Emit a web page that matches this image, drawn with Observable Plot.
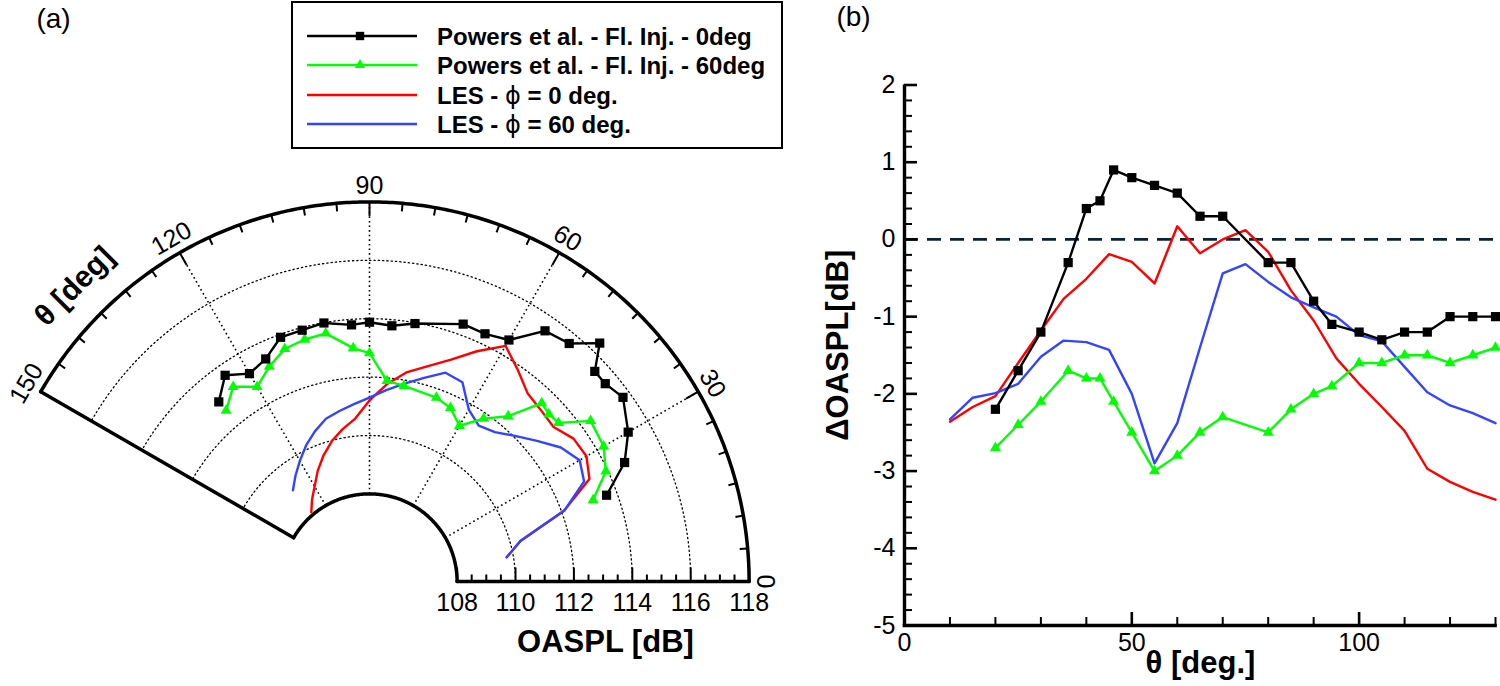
<!DOCTYPE html>
<html><head><meta charset="utf-8">
<script src="https://cdn.jsdelivr.net/npm/d3@7"></script>
<script src="https://cdn.jsdelivr.net/npm/@observablehq/plot@0.6"></script>
<style>
html,body{margin:0;padding:0;background:#fff;}
#wrap{position:relative;width:1500px;height:686px;overflow:hidden;font-family:"Liberation Sans",Arial,Helvetica,sans-serif;}
#left,#right,#legend{position:absolute;top:0;}
#left{left:0px}
#right{left:790px}
#legend{left:291px;top:1px}
svg{overflow:visible}
</style></head><body><div id="wrap"><div id="left"></div><div id="right"></div><div id="legend"></div></div>
<script>
// ---------------- data ----------------
// experimental angles (Powers et al.)
const thetaExp = [20,25,30,36,40,43,46,50,55,60,65,70,80,85,90,94,100,105,110,115,120,125,130];
// LES angles
const thetaLes = [10,15,20,25,30,35,40,45,50,55,60,65,70,75,80,85,90,95,100,105,110,115,120,125,130];

// (a) OASPL [dB] polar
const oaExp0  = [113.64,114.64,115.23,115.73,115.54,115.55,116.35,115.64,115.48,114.55,114.36,114.38,113.97,113.79,113.88,113.81,113.99,113.91,113.90,113.41,113.22,113.62,113.03];
const oaExp60 = [113.15,113.93,114.26,114.36,113.45,113.40,113.49,112.39,111.81,111.16,111.56,111.70,111.80,111.90,112.82,113.01,113.63,113.58,113.48,113.12,112.70,113.14,112.64];
const oaLes0  = [109.77,110.35,112.09,113.31,113.58,113.53,113.23,113.30,113.42,113.85,114.32,113.70,113.08,112.63,112.27,111.78,111.20,110.60,110.30,109.98,109.60,109.19,108.76,108.43,108.10];
const oaLes60 = [109.77,110.35,112.10,113.11,113.31,113.00,112.49,112.05,111.68,111.52,111.80,112.53,112.61,112.22,111.88,111.58,111.30,111.10,110.93,110.77,110.47,110.14,109.77,109.42,109.08];

// (b) Delta OASPL [dB]
const dExp0  = [-2.2,-1.7,-1.2,-0.3,0.4,0.5,0.9,0.8,0.7,0.6,0.3,0.3,-0.3,-0.3,-0.8,-1.1,-1.2,-1.3,-1.2,-1.2,-1.0,-1.0,-1.0];
const dExp60 = [-2.7,-2.4,-2.1,-1.7,-1.8,-1.8,-2.1,-2.5,-3.0,-2.8,-2.5,-2.3,-2.5,-2.2,-2.0,-1.9,-1.6,-1.6,-1.5,-1.5,-1.6,-1.5,-1.4];
const dLes0  = [-2.36,-2.17,-2.03,-1.60,-1.18,-0.77,-0.51,-0.19,-0.29,-0.57,0.17,-0.18,0.00,0.12,-0.16,-0.66,-1.05,-1.54,-1.87,-2.17,-2.48,-2.97,-3.14,-3.27,-3.37];
const dLes60 = [-2.33,-2.05,-1.99,-1.87,-1.52,-1.31,-1.33,-1.43,-2.00,-2.90,-2.38,-1.40,-0.44,-0.32,-0.55,-0.75,-0.88,-1.00,-1.24,-1.32,-1.65,-1.98,-2.15,-2.25,-2.38];

// ticks / labels
const angleLabels = [0,30,60,90,120,150];
const radialLabels = [108,110,112,114,116,118];
const xTickLabels = [0,50,100];
const yTickLabels = [-5,-4,-3,-2,-1,0,1,2];
const seriesNames = [
  ["Powers et al. - Fl. Inj. - 0deg"],
  ["Powers et al. - Fl. Inj. - 60deg"],
  ["LES - ", "\u03d5", " = 0 deg."],
  ["LES - ", "\u03d5", " = 60 deg."]
];

// ---------------- styles ----------------
const C = {black:"#000000", green:"#00ff00", red:"#ff0000", blue:"#3344ff", dash:"#0b2230"};
const FONT = '"Liberation Sans",Arial,Helvetica,sans-serif';
const LW = 2.4;

// ---------------- (a) polar ----------------
const R0 = 105, RMIN = 108, RMAX = 118, AMAX = 150;
const k = 29.2, cx = 369, cy = 581, W1 = 790, H = 686;
const rad = Math.PI / 180;
const X = (v, a) => (v - R0) * Math.cos(a * rad);
const Y = (v, a) => (v - R0) * Math.sin(a * rad);
const toPts = (th, vals) => th.map((a, i) => ({a, v: vals[i]}));
const pE0 = toPts(thetaExp, oaExp0), pE60 = toPts(thetaExp, oaExp60);
const pL0 = toPts(thetaLes, oaLes0), pL60 = toPts(thetaLes, oaLes60);
const fx = d => X(d.v, d.a), fy = d => Y(d.v, d.a);

const ringPts = [110,112,114,116].flatMap(v => d3.range(0, AMAX + 0.01, 0.5).map(a => ({v, a})));
const arcPts = [RMIN, RMAX].flatMap(v => d3.range(0, AMAX + 0.01, 0.5).map(a => ({v, a})));
const spokes = [30,60,90,120];
const angTicks = d3.range(0, AMAX + 1, 5);
const radTicks = d3.range(RMIN * 2, RMAX * 2 + 1).map(i => i / 2);

const left = Plot.plot({
  width: W1, height: H, margin: 0,
  x: {domain: [-cx / k, (W1 - cx) / k], range: [0, W1], axis: null},
  y: {domain: [-(H - cy) / k, cy / k], range: [H, 0], axis: null},
  style: {fontFamily: FONT, background: "transparent", overflow: "visible"},
  marks: [
    Plot.line(ringPts, {x: fx, y: fy, z: "v", stroke: "#000", strokeWidth: 1.3, strokeDasharray: "1.3,3"}),
    Plot.link(spokes, {x1: a => X(RMIN, a), y1: a => Y(RMIN, a), x2: a => X(RMAX, a), y2: a => Y(RMAX, a), stroke: "#000", strokeWidth: 1.6, strokeDasharray: "1.6,3"}),
    Plot.link(angTicks, {x1: a => X(RMAX, a), y1: a => Y(RMAX, a), x2: a => X(RMAX - (a % 30 === 0 ? 14 : 8) / k, a), y2: a => Y(RMAX - (a % 30 === 0 ? 14 : 8) / k, a), stroke: "#000", strokeWidth: 2}),
    Plot.link(radTicks, {x1: v => X(v, 0), y1: 0, x2: v => X(v, 0), y2: v => ((v % 2 === 0) ? 14 : 7) / k, stroke: "#000", strokeWidth: 2}),
    Plot.line(arcPts, {x: fx, y: fy, z: "v", stroke: "#000", strokeWidth: 3.5}),
    Plot.link([0, AMAX], {x1: a => X(RMIN, a), y1: a => Y(RMIN, a), x2: a => X(RMAX, a), y2: a => Y(RMAX, a), stroke: "#000", strokeWidth: 3.5, strokeLinecap: "round"}),
    Plot.line(pL0, {x: fx, y: fy, stroke: C.red, strokeWidth: LW}),
    Plot.line(pL60, {x: fx, y: fy, stroke: C.blue, strokeWidth: LW}),
    Plot.line(pE60, {x: fx, y: fy, stroke: C.green, strokeWidth: LW}),
    Plot.dot(pE60, {x: fx, y: fy, symbol: "triangle", r: 4.1, fill: C.green, stroke: "none"}),
    Plot.line(pE0, {x: fx, y: fy, stroke: C.black, strokeWidth: LW}),
    Plot.dot(pE0, {x: fx, y: fy, symbol: "square", r: 5.2, fill: C.black, stroke: "none"}),
    Plot.text(angleLabels, {x: a => X(118.56, a), y: a => Y(118.56, a), text: d => String(d), rotate: a => 90 - a, fontSize: 25, textAnchor: "middle", lineAnchor: "middle", fill: "#000"}),
    Plot.text(radialLabels, {x: v => X(v, 0), y: 0, text: d => String(d), dy: 21, fontSize: 25, textAnchor: "middle", lineAnchor: "middle", fill: "#000"}),
    Plot.text(["\u03b8 [deg]"], {x: X(119.3, 135), y: Y(119.3, 135), rotate: -45, fontSize: 30, fontWeight: "bold", textAnchor: "middle", lineAnchor: "middle", fill: "#000"}),
    Plot.text(["OASPL [dB]"], {x: X(113.08, 0), y: 0, dy: 61, fontSize: 31, fontWeight: "bold", textAnchor: "middle", lineAnchor: "middle", fill: "#000"}),
    Plot.text(["(a)"], {frameAnchor: "top-left", dx: 53, dy: 19, fontSize: 28, textAnchor: "middle", lineAnchor: "middle", fill: "#000"})
  ]
});
document.getElementById("left").appendChild(left);

// ---------------- (b) cartesian ----------------
const W2 = 710, mL = 114, mR = 5, mT = 84.5, mB = 61;
const kx = (W2 - mL - mR) / 130, ky = (H - mT - mB) / 7;
const cE0 = toPts(thetaExp, dExp0).map(d => ({t: d.a, v: d.v}));
const cE60 = toPts(thetaExp, dExp60).map(d => ({t: d.a, v: d.v}));
const cL0 = toPts(thetaLes, dLes0).map(d => ({t: d.a, v: d.v}));
const cL60 = toPts(thetaLes, dLes60).map(d => ({t: d.a, v: d.v}));
const xMinor = d3.range(0, 131, 10).filter(d => d % 50 !== 0);
const yMinor = d3.range(-25, 11).map(i => i / 5).filter(d => !Number.isInteger(d));

const right = Plot.plot({
  width: W2, height: H, marginLeft: mL, marginRight: mR, marginTop: mT, marginBottom: mB,
  x: {domain: [0, 130], axis: null},
  y: {domain: [-5, 2], axis: null},
  style: {fontFamily: FONT, background: "transparent", overflow: "visible"},
  marks: [
    Plot.ruleY([0], {x1: 0, x2: 130, stroke: C.dash, strokeWidth: 2.7, strokeDasharray: "14,9"}),
    Plot.line(cL0, {x: "t", y: "v", stroke: C.red, strokeWidth: LW}),
    Plot.line(cL60, {x: "t", y: "v", stroke: C.blue, strokeWidth: LW}),
    Plot.line(cE60, {x: "t", y: "v", stroke: C.green, strokeWidth: LW}),
    Plot.dot(cE60, {x: "t", y: "v", symbol: "triangle", r: 4.1, fill: C.green, stroke: "none"}),
    Plot.line(cE0, {x: "t", y: "v", stroke: C.black, strokeWidth: LW}),
    Plot.dot(cE0, {x: "t", y: "v", symbol: "square", r: 5.2, fill: C.black, stroke: "none"}),
    Plot.ruleX(xTickLabels, {y1: -5, y2: -5 + 13 / ky, stroke: "#000", strokeWidth: 2.6}),
    Plot.ruleX(xMinor, {y1: -5, y2: -5 + 8 / ky, stroke: "#000", strokeWidth: 2}),
    Plot.ruleY(yTickLabels, {x1: 0, x2: 13 / kx, stroke: "#000", strokeWidth: 2.6}),
    Plot.ruleY(yMinor, {x1: 0, x2: 8 / kx, stroke: "#000", strokeWidth: 2}),
    Plot.ruleY([-5], {x1: -0.3, x2: 130.4, stroke: "#000", strokeWidth: 3.4}),
    Plot.ruleX([0], {y1: -5, y2: 2, stroke: "#000", strokeWidth: 3.4}),
    Plot.text(xTickLabels, {x: d => d, y: -5, text: d => String(d), dy: 17, fontSize: 25, textAnchor: "middle", lineAnchor: "middle", fill: "#000"}),
    Plot.text(yTickLabels, {x: 0, y: d => d, text: d => String(d), dx: -9, fontSize: 25, textAnchor: "end", lineAnchor: "middle", fill: "#000"}),
    Plot.text(["\u03b8 [deg.]"], {x: 65.1, y: -5, dy: 38, fontSize: 31, fontWeight: "bold", textAnchor: "middle", lineAnchor: "middle", fill: "#000"}),
    Plot.text(["\u0394OASPL[dB]"], {x: 0, y: -1.37, dx: -66, rotate: -90, fontSize: 31, fontWeight: "bold", textAnchor: "middle", lineAnchor: "middle", fill: "#000"}),
    Plot.text(["(b)"], {frameAnchor: "top-left", dx: 853 - 790 - mL, dy: 17 - mT, fontSize: 28, textAnchor: "middle", lineAnchor: "middle", fill: "#000"})
  ]
});
document.getElementById("right").appendChild(right);

// ---------------- legend ----------------
const lg = d3.select("#legend").append("svg").attr("width", 493).attr("height", 149)
  .style("font-family", FONT);
lg.append("rect").attr("x", 1).attr("y", 1).attr("width", 490).attr("height", 146)
  .attr("fill", "#fff").attr("stroke", "#000").attr("stroke-width", 2);
const rowY = [35, 64, 94, 123];
const rowColor = [C.black, C.green, C.red, C.blue];
const rowSym = [d3.symbolSquare, d3.symbolTriangle, null, null];
seriesNames.forEach((parts, i) => {
  const g = lg.append("g").attr("transform", `translate(0,${rowY[i]})`);
  g.append("line").attr("x1", 16).attr("x2", 126).attr("y1", 0).attr("y2", 0)
    .attr("stroke", rowColor[i]).attr("stroke-width", LW);
  if (rowSym[i]) g.append("path").attr("d", d3.symbol(rowSym[i], i === 0 ? 70 : 45)())
    .attr("transform", "translate(69,0)").attr("fill", rowColor[i]);
  const t = g.append("text").attr("x", 146).attr("y", 0).attr("dy", "0.36em")
    .attr("font-size", 24).attr("font-weight", "bold");
  parts.forEach(p => {
    const s = t.append("tspan").text(p);
    if (p === "\u03d5") s.attr("font-weight", "normal").attr("font-family", "DejaVu Sans");
  });
});
</script>
</body></html>
